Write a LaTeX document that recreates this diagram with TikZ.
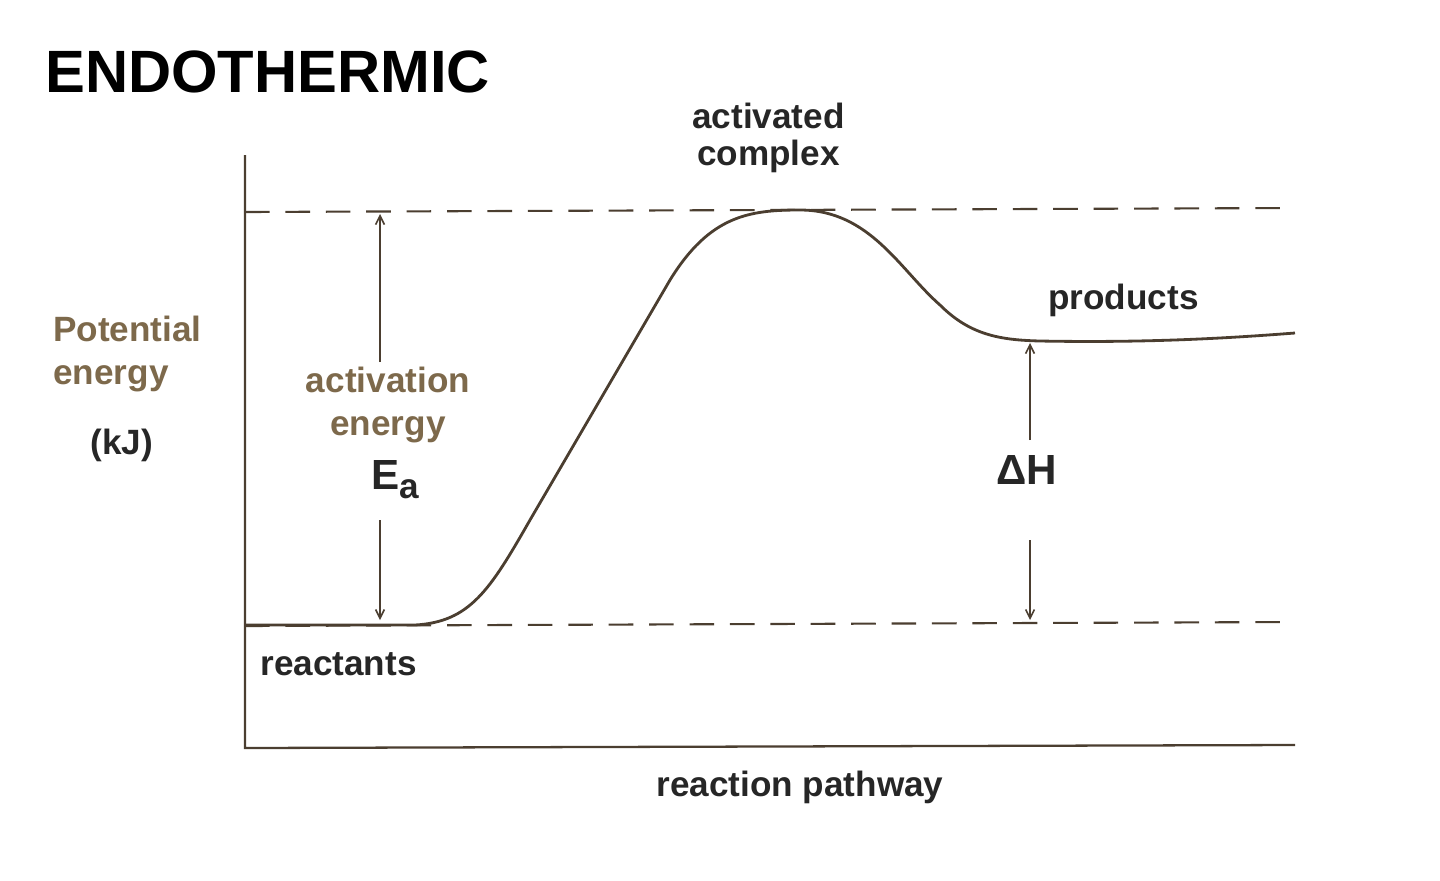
\documentclass[tikz,border=0pt]{standalone}
\usepackage{fontspec}
\setmainfont{Liberation Sans}
\usetikzlibrary{arrows.meta}
\definecolor{ln}{RGB}{75,62,48}
\definecolor{br}{RGB}{125,105,75}
\begin{document}
\begin{tikzpicture}[x=0.02cm,y=-0.02cm,
  lbl/.style={font=\fontsize{20pt}{23pt}\selectfont\bfseries, text=black!85, align=center, inner sep=0},
  axis/.style={draw=ln, line width=1.3pt},
  dsh/.style={draw=ln, line width=1.2pt, dash pattern=on 14pt off 9pt},
  arr/.style={draw=ln, line width=0.9pt, -{Straight Barb[length=5pt,width=5pt]}}]
\useasboundingbox (0,0) rectangle (1440,880);
\coordinate (yt) at (245,155); \coordinate (o) at (245,748); \coordinate (xr) at (1295,745);
\draw[axis] (yt) -- (o) -- (xr);
\coordinate (tl) at (245,212); \coordinate (tr) at (1295,208);
\coordinate (bl) at (245,626); \coordinate (brr) at (1295,622);
\draw[dsh] (tl) -- (tr);
\draw[dsh] (bl) -- (brr);
\draw[ln, line width=1.6pt] (245,625) -- (415,625)
  .. controls (470,622) and (490,590) .. (530,520)
  -- (670,280)
  .. controls (710,215) and (750,210) .. (800,210)
  .. controls (870,210) and (900,270) .. (940,305)
  .. controls (970,335) and (1000,340) .. (1040,341)
  .. controls (1150,343) and (1230,338) .. (1295,333);
\node[font=\fontsize{34pt}{38pt}\selectfont\bfseries, anchor=west, inner sep=0] (t) at (45,72) {ENDOTHERMIC};
\node[lbl, anchor=west] (ac) at (692,138) {activated\\[-2pt]complex};
\node[lbl, anchor=west] (pr) at (1048,300) {products};
\node[lbl, anchor=west] (re) at (260,664) {reactants};
\node[lbl] (rp) at (800,787) {reaction pathway};
\node[lbl, text=br, align=left, anchor=west] (pe) at (53,354) {Potential\\[2pt]energy};
\node[lbl] (kj) at (122,445) {(kJ)};
\node[lbl, text=br] (ae) at (388,405) {activation\\[2pt]energy};
\node[font=\fontsize{24pt}{26pt}\selectfont\bfseries, text=black!85, inner sep=0] (ea) at (395,480) {E\raisebox{-5pt}{\fontsize{20pt}{22pt}\selectfont a}};
\node[font=\fontsize{24pt}{26pt}\selectfont\bfseries, text=black!85, inner sep=0] (dh) at (1027,470) {ΔH};
\coordinate (a1) at (380,362); \coordinate (a2) at (380,214);
\coordinate (a3) at (380,520); \coordinate (a4) at (380,620);
\coordinate (d1) at (1030,440); \coordinate (d2) at (1030,343);
\coordinate (d3) at (1030,540); \coordinate (d4) at (1030,620);
\draw[arr] (a1) -- (a2); \draw[arr] (a3) -- (a4);
\draw[arr] (d1) -- (d2); \draw[arr] (d3) -- (d4);
\end{tikzpicture}
\end{document}
